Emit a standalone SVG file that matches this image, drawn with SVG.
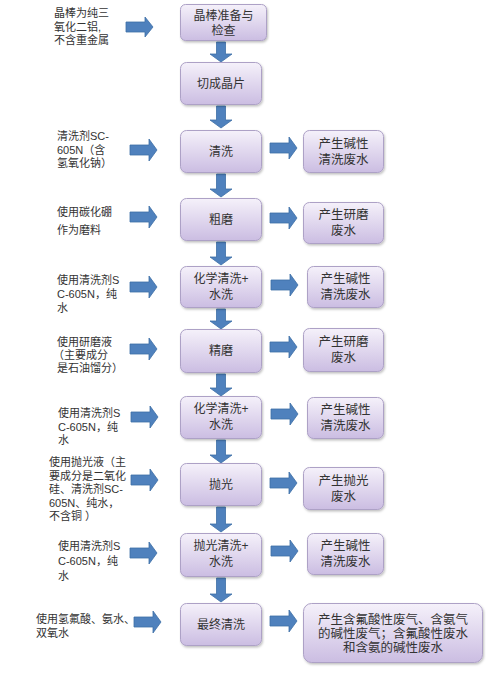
<svg xmlns="http://www.w3.org/2000/svg" width="488" height="673" viewBox="0 0 488 673">
<defs>
<linearGradient id="g" x1="0" y1="0" x2="0" y2="1">
<stop offset="0" stop-color="#f5f1fa"/>
<stop offset="1" stop-color="#cbbde2"/>
</linearGradient>
<filter id="sh" x="-10%" y="-10%" width="125%" height="130%">
<feDropShadow dx="1" dy="1.5" stdDeviation="1" flood-color="#000" flood-opacity="0.25"/>
</filter>
</defs>
<style>
.box{fill:url(#g);stroke:#ada1c6;stroke-width:1;filter:url(#sh)}
.ar{fill:#4f81bd;stroke:#3e6ea6;stroke-width:0.8}
text{font-family:"Liberation Sans","Noto Sans CJK SC",sans-serif;fill:#333}
.l{font-size:11px}
.c{font-size:12px;text-anchor:middle}
.r{font-size:12.5px;text-anchor:middle}
</style>
<rect width="488" height="673" fill="#fff"/>

<g id="connectors">
<path class="ar" d="M126,22 H145 V17 L153,27 L145,37 V32 H126 Z"/>
<path class="ar" d="M130,145 H149 V139 L157,150 L149,161 V155 H130 Z"/>
<path class="ar" d="M130,212 H149 V206 L157,217 L149,228 V222 H130 Z"/>
<path class="ar" d="M130,282 H149 V276 L157,287 L149,298 V292 H130 Z"/>
<path class="ar" d="M130,344 H149 V338 L157,349 L149,360 V354 H130 Z"/>
<path class="ar" d="M131,412 H150 V406 L158,417 L150,428 V422 H131 Z"/>
<path class="ar" d="M131,475 H150 V469 L158,480 L150,491 V485 H131 Z"/>
<path class="ar" d="M130,548 H149 V542 L157,553 L149,564 V558 H130 Z"/>
<path class="ar" d="M134,617 H153 V611 L161,622 L153,633 V627 H134 Z"/>
<path class="ar" d="M270,143 H289 V137 L297,148 L289,159 V153 H270 Z"/>
<path class="ar" d="M270,213 H289 V207 L297,218 L289,229 V223 H270 Z"/>
<path class="ar" d="M271,280 H290 V274 L298,285 L290,296 V290 H271 Z"/>
<path class="ar" d="M270,342 H289 V336 L297,347 L289,358 V352 H270 Z"/>
<path class="ar" d="M271,409 H290 V403 L298,414 L290,425 V419 H271 Z"/>
<path class="ar" d="M270,478 H289 V472 L297,483 L289,494 V488 H270 Z"/>
<path class="ar" d="M271,546 H290 V540 L298,551 L290,562 V556 H271 Z"/>
<path class="ar" d="M270,616 H289 V610 L297,621 L289,632 V626 H270 Z"/>
<path class="ar" d="M216.5,42 H225.5 V54 H232 L221,62 L210,54 H216.5 Z"/>
<path class="ar" d="M216.5,106 H225.5 V120 H232 L221,128 L210,120 H216.5 Z"/>
<path class="ar" d="M216.5,174 H225.5 V189 H232 L221,197 L210,189 H216.5 Z"/>
<path class="ar" d="M216.5,242 H225.5 V257 H232 L221,265 L210,257 H216.5 Z"/>
<path class="ar" d="M216.5,309 H225.5 V321 H232 L221,329 L210,321 H216.5 Z"/>
<path class="ar" d="M216.5,374 H225.5 V388 H232 L221,396 L210,388 H216.5 Z"/>
<path class="ar" d="M216.5,440 H225.5 V455 H232 L221,463 L210,455 H216.5 Z"/>
<path class="ar" d="M216.5,507 H225.5 V524 H232 L221,532 L210,524 H216.5 Z"/>
<path class="ar" d="M216.5,578 H225.5 V594 H232 L221,602 L210,594 H216.5 Z"/>
</g>

<g id="in1"><text class="l" x="54" y="17">晶棒为纯三</text><text class="l" x="54" y="30.5">氧化二铝,</text><text class="l" x="54" y="44">不含重金属</text></g>
<g id="in3"><text class="l" x="57" y="140">清洗剂SC-</text><text class="l" x="57" y="153.5">605N（含</text><text class="l" x="57" y="167">氢氧化钠）</text></g>
<g id="in4"><text class="l" x="57" y="216">使用碳化硼</text><text class="l" x="57" y="234">作为磨料</text></g>
<g id="in5"><text class="l" x="57" y="284">使用清洗剂S</text><text class="l" x="57" y="298">C-605N，纯</text><text class="l" x="57" y="312">水</text></g>
<g id="in6"><text class="l" x="57" y="346">使用研磨液</text><text class="l" x="53" y="359">（主要成分</text><text class="l" x="57" y="372">是石油馏分）</text></g>
<g id="in7"><text class="l" x="58" y="417">使用清洗剂S</text><text class="l" x="58" y="430.5">C-605N，纯</text><text class="l" x="58" y="444">水</text></g>
<g id="in8"><text class="l" x="49" y="466">使用抛光液（主</text><text class="l" x="49" y="479.5">要成分是二氧化</text><text class="l" x="49" y="493">硅、清洗剂SC-</text><text class="l" x="49" y="506.5">605N、纯水，</text><text class="l" x="49" y="520">不含铜 ）</text></g>
<g id="in9"><text class="l" x="58" y="550">使用清洗剂S</text><text class="l" x="58" y="565">C-605N，纯</text><text class="l" x="58" y="580">水</text></g>
<g id="in10"><text class="l" x="36" y="623">使用氢氟酸、氨水、</text><text class="l" x="36" y="637">双氧水</text></g>

<g id="p1"><rect class="box" x="180.5" y="4.5" width="86" height="36" rx="5"/><text class="c" x="223.5" y="20">晶棒准备与</text><text class="c" x="223.5" y="35">检查</text></g>
<g id="p2"><rect class="box" x="180.5" y="62.5" width="81" height="42" rx="6"/><text class="c" x="221" y="88">切成晶片</text></g>
<g id="p3"><rect class="box" x="180.5" y="130.5" width="81" height="42" rx="6"/><text class="c" x="221" y="156">清洗</text></g>
<g id="p4"><rect class="box" x="180.5" y="198.5" width="81" height="42" rx="6"/><text class="c" x="221" y="224">粗磨</text></g>
<g id="p5"><rect class="box" x="180.5" y="266.5" width="81" height="41" rx="6"/><text class="c" x="221" y="283">化学清洗+</text><text class="c" x="221" y="299">水洗</text></g>
<g id="p6"><rect class="box" x="180.5" y="329.5" width="81" height="43" rx="6"/><text class="c" x="221" y="355">精磨</text></g>
<g id="p7"><rect class="box" x="180.5" y="396.5" width="81" height="42" rx="6"/><text class="c" x="221" y="413">化学清洗+</text><text class="c" x="221" y="429">水洗</text></g>
<g id="p8"><rect class="box" x="180.5" y="463.5" width="81" height="42" rx="6"/><text class="c" x="221" y="489">抛光</text></g>
<g id="p9"><rect class="box" x="180.5" y="533.5" width="81" height="43" rx="6"/><text class="c" x="221" y="550">抛光清洗+</text><text class="c" x="221" y="566">水洗</text></g>
<g id="p10"><rect class="box" x="180.5" y="603.5" width="81" height="42" rx="6"/><text class="c" x="221" y="629">最终清洗</text></g>

<g id="o3"><rect class="box" x="303.5" y="130.5" width="80" height="42" rx="6"/><text class="r" x="343.5" y="148">产生碱性</text><text class="r" x="343.5" y="164">清洗废水</text></g>
<g id="o4"><rect class="box" x="303.5" y="202.5" width="80" height="41" rx="6"/><text class="r" x="343.5" y="219">产生研磨</text><text class="r" x="343.5" y="235">废水</text></g>
<g id="o5"><rect class="box" x="307.5" y="266.5" width="76" height="41" rx="6"/><text class="r" x="345.5" y="283">产生碱性</text><text class="r" x="345.5" y="299">清洗废水</text></g>
<g id="o6"><rect class="box" x="303.5" y="328.5" width="80" height="43" rx="6"/><text class="r" x="343.5" y="346">产生研磨</text><text class="r" x="343.5" y="362">废水</text></g>
<g id="o7"><rect class="box" x="307.5" y="397.5" width="76" height="41" rx="6"/><text class="r" x="345.5" y="414">产生碱性</text><text class="r" x="345.5" y="430">清洗废水</text></g>
<g id="o8"><rect class="box" x="303.5" y="467.5" width="80" height="42" rx="6"/><text class="r" x="343.5" y="485">产生抛光</text><text class="r" x="343.5" y="501">废水</text></g>
<g id="o9"><rect class="box" x="307.5" y="533.5" width="76" height="41" rx="6"/><text class="r" x="345.5" y="550">产生碱性</text><text class="r" x="345.5" y="566">清洗废水</text></g>
<g id="o10"><rect class="box" x="303.5" y="603.5" width="179" height="59" rx="8"/><text class="r" x="393" y="624">产生含氟酸性废气、含氨气</text><text class="r" x="393" y="638">的碱性废气；含氟酸性废水</text><text class="r" x="393" y="652">和含氨的碱性废水</text></g>
</svg>
